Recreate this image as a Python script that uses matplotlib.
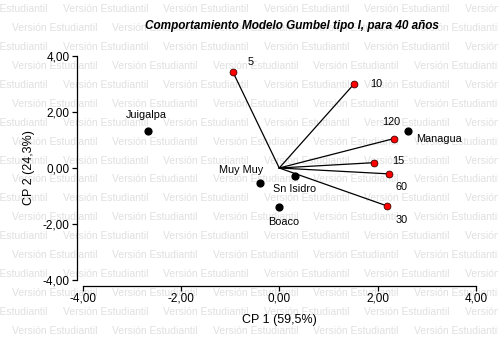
import numpy as np
import matplotlib.pyplot as plt

# Biplot CP1 vs CP2: return periods as vectors, stations as points
periods = ["5", "10", "120", "15", "60", "30"]
period_cp1 = [-0.94, 1.52, 2.33, 1.92, 2.23, 2.20]
period_cp2 = [3.42, 3.00, 1.05, 0.19, -0.21, -1.36]

stations = ["Managua", "Sn Isidro", "Muy Muy", "Boaco", "Juigalpa"]
station_cp1 = [2.62, 0.32, -0.40, 0.00, -2.67]
station_cp2 = [1.33, -0.29, -0.54, -1.39, 1.33]

ticks = [-4, -2, 0, 2, 4]

# label offsets in pixels (dx, dy with y up)
period_offsets = [(18, 10), (22, 0), (-3, 17), (25, 2), (13, -13), (14, -14)]
station_offsets = [(31, -8), (0, -13), (-18, 13), (4, -15), (-2, 16)]

W, H = 498, 338
plt.rcParams['font.family'] = ['Liberation Sans', 'DejaVu Sans']
fig = plt.figure(figsize=(W / 100, H / 100), dpi=100)
renderer = fig.canvas.get_renderer()

# size the watermark so each phrase is ~86 px wide
probe = fig.text(0, 0, "Versión Estudiantil", fontsize=10)
wm_size = 10 * 86 / probe.get_window_extent(renderer).width
probe.remove()
print("watermark size", wm_size)

for k in range(18):
    y = 9.3 + 18.9 * k
    x0 = -37.8 if k % 2 == 0 else 11.7
    for n in range(7):
        x = x0 + 100.5 * n
        fig.text(x / W, 1 - y / H, "Versión Estudiantil",
                 fontsize=wm_size, color='#e0e0e0', ha='left', va='center',
                 zorder=0)

ax = fig.add_axes([82.5 / W, 1 - 280 / H, (476 - 82.5) / W, (280 - 56) / H])
ax.set_zorder(1)
ax.patch.set_alpha(0)

for x, y in zip(period_cp1, period_cp2):
    ax.plot([0, x], [0, y], color='black', lw=0.9, zorder=2)
ax.scatter(period_cp1, period_cp2, s=24, color='#ff0000', edgecolor='#400000',
           linewidth=0.6, zorder=3)
ax.scatter(station_cp1, station_cp2, s=24, color='black', zorder=3)

for name, x, y, off in zip(periods, period_cp1, period_cp2, period_offsets):
    ax.annotate(name, (x, y), xytext=off, textcoords='offset pixels',
                ha='center', va='center', fontsize=7.8)
for name, x, y, off in zip(stations, station_cp1, station_cp2, station_offsets):
    ax.annotate(name, (x, y), xytext=off, textcoords='offset pixels',
                ha='center', va='center', fontsize=7.8)

ax.set_xlim(-4, 4)
ax.set_ylim(-4, 4)
ax.set_xticks(ticks)
ax.set_yticks(ticks)
fmt = lambda v: f"{v:.2f}".replace('.', ',')
ax.set_xticklabels([fmt(t) for t in ticks])
ax.set_yticklabels([fmt(t) for t in ticks])
ax.tick_params(direction='out', length=3.5, width=0.9, labelsize=8.5, pad=1.5)
for side in ['top', 'right']:
    ax.spines[side].set_visible(False)
for side in ['left', 'bottom']:
    ax.spines[side].set_position(('outward', 4.3))
    ax.spines[side].set_linewidth(0.9)

fig.text(279 / W, 1 - 320 / H, "CP 1 (59,5%)", ha='center', va='center',
         fontsize=9)
fig.text(29 / W, 1 - 168 / H, "CP 2 (24,3%)", ha='center', va='center',
         fontsize=9, rotation=90)
fig.text(292 / W, 1 - 26 / H, "Comportamiento Modelo Gumbel tipo I, para 40 años",
         ha='center', va='center', fontsize=8.5, fontweight='bold',
         fontstyle='italic')

fig.savefig("out.png", dpi=100)
